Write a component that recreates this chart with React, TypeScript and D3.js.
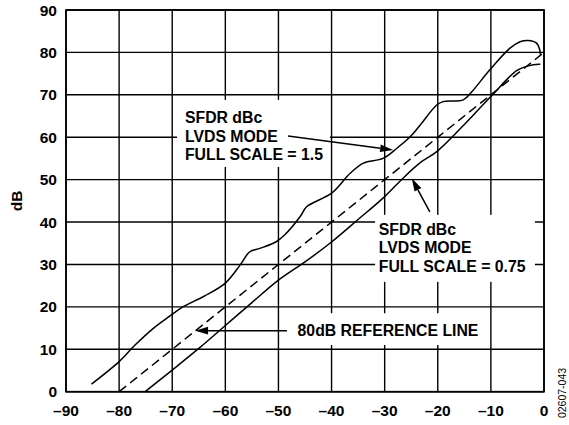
import React from "react";
import * as d3 from "d3";

const xTicks = [-90, -80, -70, -60, -50, -40, -30, -20, -10, 0];
const xTickLabels = ["–90", "–80", "–70", "–60", "–50", "–40", "–30", "–20", "–10", "0"];
const yTicks = [0, 10, 20, 30, 40, 50, 60, 70, 80, 90];

const refX = [-80, 0];
const refY = [0, 80];

const fs15X = [-85.2, -80, -77, -73.5, -70.5, -68, -64, -60, -57.2, -55.4, -53.5, -50.5, -48.8, -45.9, -44.7, -40, -36.5, -34, -30.3, -27.7, -25.2, -23.3, -20.2, -19, -15.2, -13.6, -10.2, -6.4, -4.5, -3, -1.4, -0.8, -0.7];
const fs15Y = [1.8, 7.1, 11, 15, 17.8, 20, 22.5, 25.6, 29.9, 33, 33.8, 35.3, 37, 41.3, 43.6, 46.8, 51.5, 53.9, 55, 57.4, 60.1, 62.9, 67.6, 68.4, 68.8, 70.7, 75.9, 81, 82.5, 82.8, 82.2, 80.6, 79.5];

const fs075X = [-75.1, -70, -65, -60, -55, -50, -45, -40, -35, -30, -26.5, -23.3, -20, -15, -10, -5, -2, -0.7];
const fs075Y = [0, 5.1, 10.2, 15.6, 21, 26.3, 30.6, 35.3, 40.6, 46, 50.4, 54, 56.8, 63, 69.6, 75.8, 77.1, 77.2];

const note1Lines = ["SFDR dBc", "LVDS MODE", "FULL SCALE = 1.5"];
const note2Lines = ["SFDR dBc", "LVDS MODE", "FULL SCALE = 0.75"];
const note3Text = "80dB REFERENCE LINE";

export default function App() {
  const W = 569, H = 425;
  const x = d3.scaleLinear().domain([-90, 0]).range([66, 544]);
  const y = d3.scaleLinear().domain([0, 90]).range([391.7, 10]);
  const line = d3.line<[number, number]>().x(d => x(d[0])).y(d => y(d[1])).curve(d3.curveCatmullRom.alpha(0.5));
  const straight = d3.line<[number, number]>().x(d => x(d[0])).y(d => y(d[1]));
  const fs15 = fs15X.map((v, i) => [v, fs15Y[i]] as [number, number]);
  const fs075 = fs075X.map((v, i) => [v, fs075Y[i]] as [number, number]);
  const ref = refX.map((v, i) => [v, refY[i]] as [number, number]);
  const font = "'Liberation Sans', Arial, Helvetica, sans-serif";

  const box = (x0: number, x1: number, d0: number, d1: number, key: string) => (
    <rect key={key} x={x(x0)} y={y(d0)} width={x(x1) - x(x0)} height={y(d1) - y(d0)} fill="white" />
  );

  const arrow = (tx: number, ty: number, hx: number, hy: number, key: string) => {
    const x1 = x(tx), y1 = y(ty), x2 = x(hx), y2 = y(hy);
    const ang = Math.atan2(y2 - y1, x2 - x1);
    const L = 13, w = 3.8;
    const bx = x2 - L * Math.cos(ang), by = y2 - L * Math.sin(ang);
    const px = -Math.sin(ang) * w, py = Math.cos(ang) * w;
    return (
      <g key={key}>
        <line x1={x1} y1={y1} x2={bx} y2={by} stroke="black" strokeWidth={1.5} />
        <path d={`M${x2},${y2}L${bx + px},${by + py}L${bx - px},${by - py}Z`} fill="black" />
      </g>
    );
  };

  return (
    <svg width={W} height={H} style={{ position: "absolute", left: 0, top: 0, background: "white" }}>
      {xTicks.map(t => (
        <line key={"gx" + t} x1={x(t)} x2={x(t)} y1={y(0)} y2={y(90)} stroke="black" strokeWidth={1.4} />
      ))}
      {yTicks.map(t => (
        <line key={"gy" + t} x1={x(-90)} x2={x(0)} y1={y(t)} y2={y(t)} stroke="black" strokeWidth={1.4} />
      ))}
      {box(-69.1, -40.3, 68.8, 53.0, "b1")}
      {box(-31.8, -1.7, 41.7, 25.9, "b2")}
      {box(-47.8, -11.1, 18.5, 11.0, "b3")}
      <rect x={x(-90)} y={y(90)} width={x(0) - x(-90)} height={y(0) - y(90)} fill="none" stroke="black" strokeWidth={1.7} />
      <path d={straight(ref) || ""} fill="none" stroke="black" strokeWidth={1.5} strokeDasharray="9,5" />
      <path d={line(fs15) || ""} fill="none" stroke="black" strokeWidth={1.5} />
      <path d={line(fs075) || ""} fill="none" stroke="black" strokeWidth={1.5} />
      {xTicks.map((t, i) => (
        <text key={"tx" + t} x={x(t)} y={416} textAnchor="middle" fontFamily={font} fontWeight="bold" fontSize={15.5}>{xTickLabels[i]}</text>
      ))}
      {yTicks.map(t => (
        <text key={"ty" + t} x={57} y={y(t)} dy="0.36em" textAnchor="end" fontFamily={font} fontWeight="bold" fontSize={15.5}>{t}</text>
      ))}
      <text transform={`translate(22,${y(45)}) rotate(-90)`} textAnchor="middle" fontFamily={font} fontWeight="bold" fontSize={15.5}>dB</text>
      <text transform={`translate(566,393) rotate(-90)`} textAnchor="middle" fontFamily={font} fontSize={10.5}>02607-043</text>
      {note1Lines.map((s, i) => (
        <text key={"n1" + i} x={x(-67.6)} y={y([64.8, 60.3, 55.9][i])} dy="0.36em" fontFamily={font} fontWeight="bold" fontSize={15.8}>{s}</text>
      ))}
      {note2Lines.map((s, i) => (
        <text key={"n2" + i} x={x(-31.1)} y={y([38.2, 34.0, 29.5][i])} dy="0.36em" fontFamily={font} fontWeight="bold" fontSize={15.8}>{s}</text>
      ))}
      <text x={x(-46.4)} y={y(14.4)} dy="0.36em" fontFamily={font} fontWeight="bold" fontSize={15.8}>{note3Text}</text>
      {arrow(-48.2, 60.3, -28.4, 57.0, "a1")}
      {arrow(-21.5, 42.4, -24.9, 50.3, "a2")}
      {arrow(-48.4, 14.4, -65.7, 14.4, "a3")}
    </svg>
  );
}
